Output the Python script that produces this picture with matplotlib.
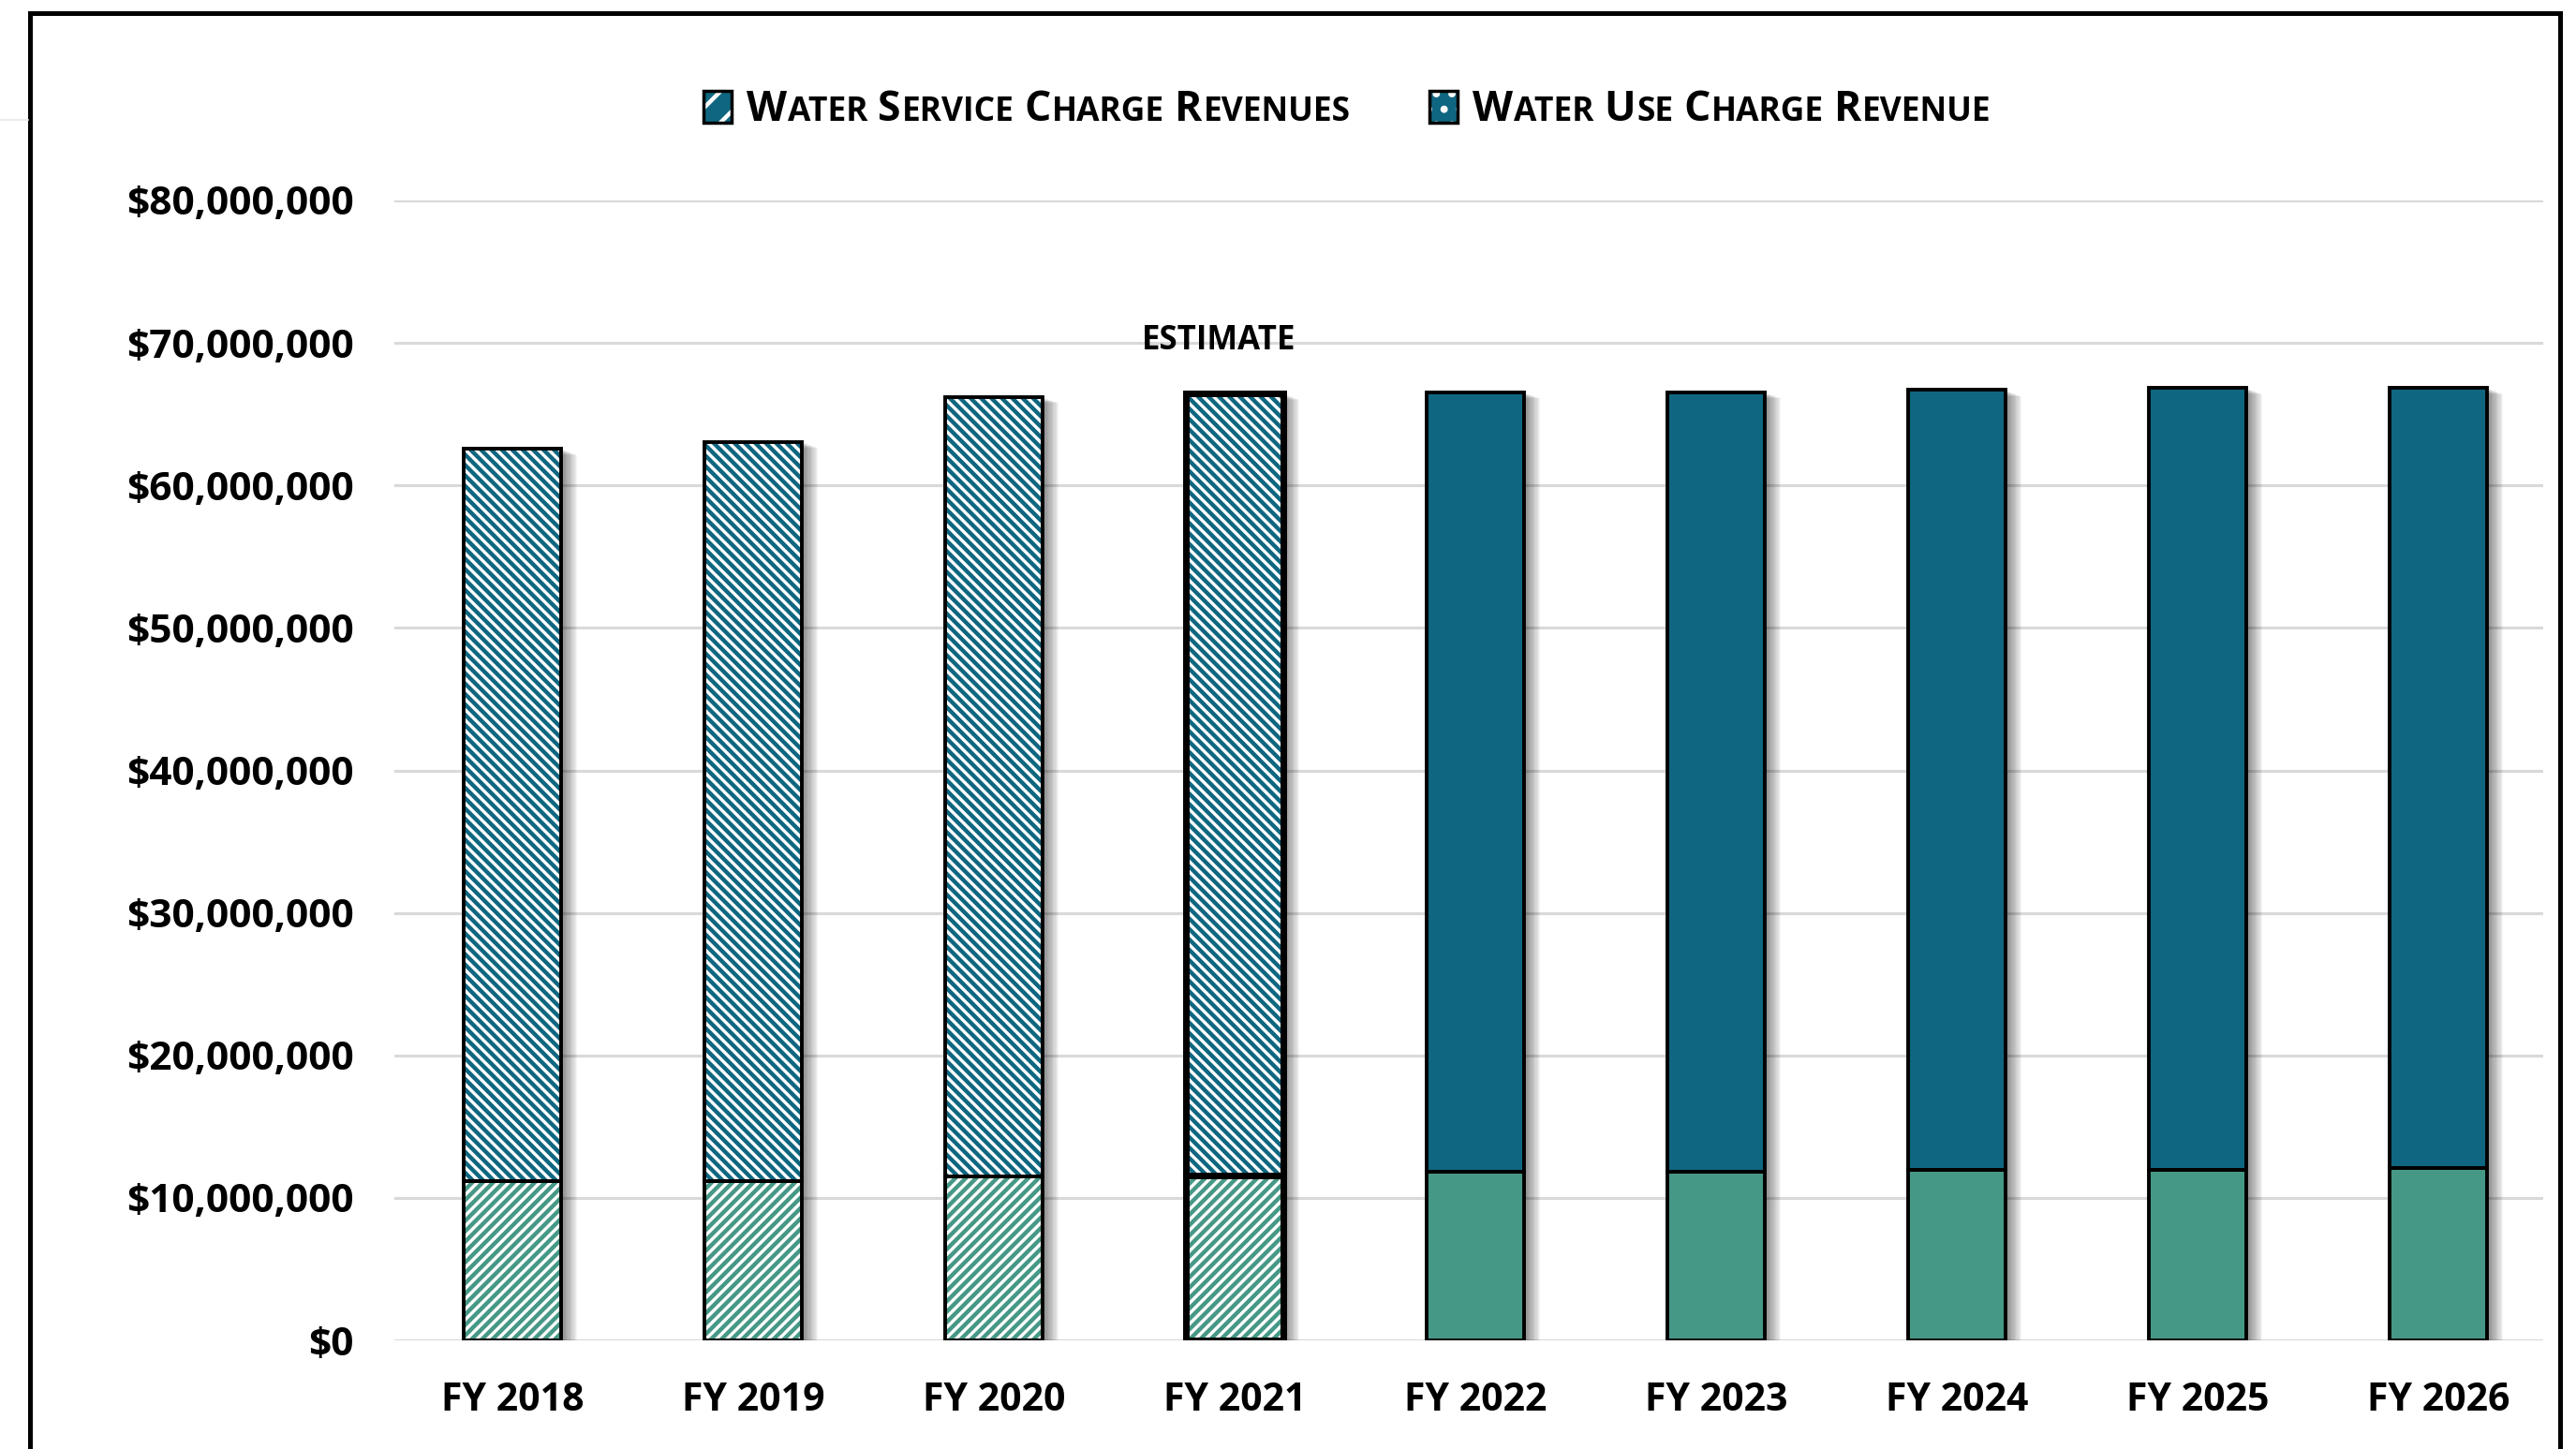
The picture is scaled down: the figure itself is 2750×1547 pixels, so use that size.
import matplotlib
matplotlib.use("Agg")
import matplotlib.pyplot as plt
import matplotlib.patheffects as pe
from matplotlib.patches import Rectangle
from matplotlib.lines import Line2D
from matplotlib.ticker import FuncFormatter, MultipleLocator
import numpy as np

# revenue by fiscal year, in millions of dollars
years = ["FY 2018", "FY 2019", "FY 2020", "FY 2021", "FY 2022",
         "FY 2023", "FY 2024", "FY 2025", "FY 2026"]
service_rev = [11.16, 11.16, 11.48, 11.57, 11.81, 11.81, 11.98, 11.98, 12.12]
use_rev = [51.43, 51.91, 54.74, 54.90, 54.74, 54.74, 54.71, 54.87, 54.73]
n_actual = 4          # FY2018-FY2021 are drawn hatched
estimate_idx = 3      # FY2021 carries the ESTIMATE tag

legend_labels = ["Water Service Charge Revenues", "Water Use Charge Revenue"]

GREEN = "#469886"
BLUE = "#0F6680"
GRID = "#D9D9D9"

W, H = 2750, 1547
plt.rcParams["hatch.linewidth"] = 3.2
plt.rcParams["font.family"] = ["Open Sans", "DejaVu Sans"]

fig = plt.figure(figsize=(W / 100, H / 100), dpi=100)
fig.patch.set_facecolor("white")

ax = fig.add_axes([421 / W, 1 - 1431 / H, (2715 - 421) / W, (1431 - 214) / H])
ax.set_xlim(-0.49, 8.436)
ax.set_ylim(0, 80)

x = np.arange(len(years))
service = np.array(service_rev)
use = np.array(use_rev)
total = service + use
bw = 0.405

# soft drop shadow behind each full stack
shadow = [pe.SimplePatchShadow(offset=(k * 0.9, -k * 0.35), shadow_rgbFace="black",
                               alpha=0.04) for k in range(1, 15)]
sh = ax.bar(x, total, bw, color="white", linewidth=0, zorder=2)
for b in sh:
    b.set_path_effects(shadow + [pe.Normal()])

lws = [2.8] * len(years)
lws[estimate_idx] = 5.0

for i in range(len(years)):
    if i < n_actual:
        ax.bar(x[i], service[i], bw, color="white", edgecolor=GREEN, hatch="///",
               linewidth=0, zorder=3)
        ax.bar(x[i], use[i], bw, bottom=service[i], color="white", edgecolor=BLUE,
               hatch="\\\\\\", linewidth=0, zorder=3)
    else:
        ax.bar(x[i], service[i], bw, color=GREEN, linewidth=0, zorder=3)
        ax.bar(x[i], use[i], bw, bottom=service[i], color=BLUE, linewidth=0, zorder=3)
    ax.bar(x[i], service[i], bw, fill=False, edgecolor="black", linewidth=lws[i], zorder=4)
    ax.bar(x[i], use[i], bw, bottom=service[i], fill=False, edgecolor="black",
           linewidth=lws[i], zorder=4)

ax.text(estimate_idx - 0.066, 69.56, "ESTIMATE", ha="center", va="baseline",
        fontsize=25, fontweight="bold", zorder=5)

ax.yaxis.set_major_locator(MultipleLocator(10))
ax.yaxis.set_major_formatter(FuncFormatter(lambda v, p: "${:,.0f}".format(v * 1e6)))
ax.set_xticks(x)
ax.set_xticklabels(years)
ax.grid(axis="y", color=GRID, linewidth=2.2, zorder=0)
ax.set_axisbelow(True)
for s in ax.spines.values():
    s.set_visible(False)
ax.tick_params(axis="y", length=0, pad=31, labelsize=30.5)
ax.tick_params(axis="x", length=0, pad=32, labelsize=29.5)
for lab in ax.get_xticklabels() + ax.get_yticklabels():
    lab.set_fontweight("bold")

# legend drawn by hand, labels in small caps
def fig_rect(x0, y0, w, h, **kw):
    r = Rectangle((x0 / W, 1 - (y0 + h) / H), w / W, h / H,
                  transform=fig.transFigure, **kw)
    fig.add_artist(r)
    return r

def small_caps(x0, y0, label, big=32, small=25.5, gap=10):
    r = fig.canvas.get_renderer()
    xx = x0
    for word in label.split():
        for s, size in ((word[0].upper(), big), (word[1:].upper(), small)):
            t = fig.text(xx / W, 1 - y0 / H, s, fontsize=size, fontweight="bold",
                         ha="left", va="baseline")
            xx += t.get_window_extent(r).width + 1
        xx += gap
    return xx

fig_rect(751, 97, 30, 34, facecolor=BLUE, edgecolor="white", hatch="/", linewidth=0)
fig_rect(751, 97, 30, 34, fill=False, edgecolor="black", linewidth=2.5)
small_caps(797, 129, legend_labels[0])

fig_rect(1526, 97, 30, 34, facecolor=BLUE, edgecolor="white", hatch=".", linewidth=0)
fig_rect(1526, 97, 30, 34, fill=False, edgecolor="black", linewidth=2.5)
small_caps(1572, 129, legend_labels[1])

# outer frame
frame = Rectangle((32 / W, -0.05), (2733 - 32) / W, 1.05 - 14.5 / H,
                  transform=fig.transFigure, fill=False, edgecolor="black",
                  linewidth=3.6)
fig.add_artist(frame)
fig.add_artist(Line2D([0, 30 / W], [1 - 128 / H, 1 - 128 / H], transform=fig.transFigure,
                      color="#E6E6E6", linewidth=1.2))

fig.savefig("out.png", dpi=100, facecolor="white")
